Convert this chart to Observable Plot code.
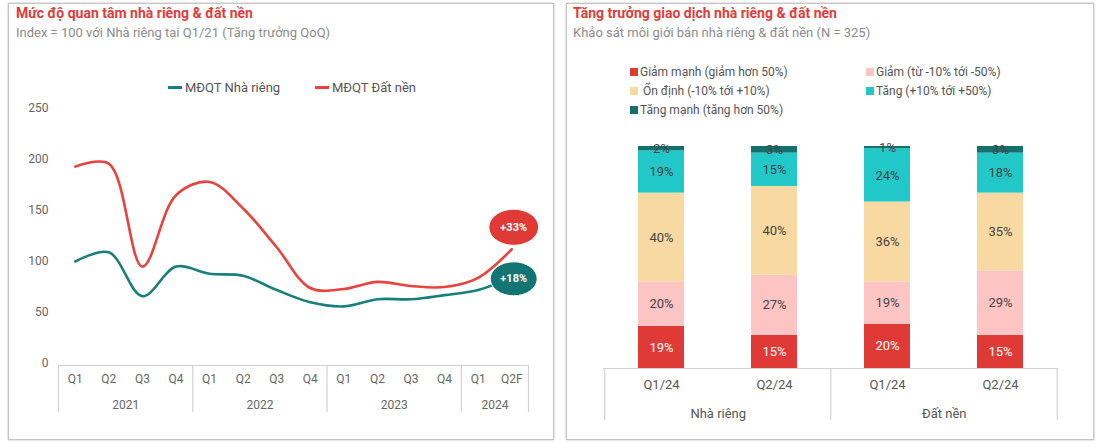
<!DOCTYPE html>
<html><head><meta charset="utf-8">
<script src="https://cdn.jsdelivr.net/npm/d3@7"></script>
<script src="https://cdn.jsdelivr.net/npm/@observablehq/plot@0.6"></script>
<style>
body{margin:0;width:1100px;height:447px;position:relative;background:#fff;font-family:Roboto,"Noto Sans",sans-serif;overflow:hidden}
.panel{position:absolute;top:3px;height:437px;border:1.5px solid #c4c4c4;box-shadow:0 0 2px #bbb;box-sizing:border-box}
.title{position:absolute;font-weight:bold;font-size:14px;color:#e03c3a;white-space:nowrap}
.sub{position:absolute;font-size:13px;color:#8c8c8c;white-space:nowrap}
.chart{position:absolute;top:0}
.leg{position:absolute;font-size:13px;color:#555;white-space:nowrap;display:flex;align-items:center}
.leg .ln{display:inline-block;width:14px;height:2.5px;margin-right:3px}
.leg2{position:absolute;font-size:12px;color:#555;white-space:nowrap;display:flex;align-items:center}
.leg2 .sq{display:inline-block;width:8px;height:8px;margin-right:2px}
</style></head><body>
<div class="panel" style="left:8px;width:546px"></div>
<div class="panel" style="left:566px;width:528px"></div>
<div class="title" style="left:16px;top:5px">Mức độ quan tâm nhà riêng &amp; đất nền</div>
<div class="sub" style="left:16px;top:25px">Index = 100 với Nhà riêng tại Q1/21 (Tăng trưởng QoQ)</div>
<div class="title" style="left:573px;top:5px">Tăng trưởng giao dịch nhà riêng &amp; đất nền</div>
<div class="sub" style="left:573px;top:25px">Khảo sát môi giới bán nhà riêng &amp; đất nền (N = 325)</div>
<div id="legL"></div>
<div id="legR"></div>
<div id="left" class="chart" style="left:0"></div>
<div id="right" class="chart" style="left:560px"></div>
<script>
// ---------- Left chart data ----------
const quarters = ["Q1","Q2","Q3","Q4","Q1","Q2","Q3","Q4","Q1","Q2","Q3","Q4","Q1","Q2F"];
const quarterYears = ["2021","2021","2021","2021","2022","2022","2022","2022","2023","2023","2023","2023","2024","2024"];
const years = ["2021","2022","2023","2024"];
const nhaRieng = [100,109,66,95,88,86,72,60,56,63,63,67,72,85];
const datNen = [193,196,95,165,178,152,114,74,73,80,76,75,84,112];
const seriesNames = ["MĐQT Nhà riêng","MĐQT Đất nền"];
const seriesColors = ["#18807c","#e8433d"];
const badgeLabels = ["+18%","+33%"];
const badgeColors = ["#137571","#e03a36"];
const yTicks = [0,50,100,150,200,250];

// ---------- Right chart data ----------
const groups = ["Nhà riêng","Nhà riêng","Đất nền","Đất nền"];
const periods = ["Q1/24","Q2/24","Q1/24","Q2/24"];
const categories = ["Giảm mạnh (giảm hơn 50%)","Giảm (từ -10% tới -50%)"," Ổn định (-10% tới +10%)","Tăng (+10% tới +50%)","Tăng mạnh (tăng hơn 50%)"];
const giamManh = [19,15,20,15];
const giam = [20,27,19,29];
const onDinh = [40,40,36,35];
const tang = [19,15,24,18];
const tangManh = [2,3,1,3];
const catColors = ["#e03a37","#fcc5c4","#f9d9a2","#22c8c8","#13706c"];

// ---------- Left chart ----------
const lineRows = [];
quarters.forEach((q,i)=>{
  lineRows.push({i, q, s: seriesNames[0], v: nhaRieng[i]});
  lineRows.push({i, q, s: seriesNames[1], v: datNen[i]});
});
const yearRows = years.map(y=>{
  const idx = quarterYears.map((d,i)=>d===y?i:-1).filter(i=>i>=0);
  return {year:y, mid:(idx[0]+idx[idx.length-1])/2, start:idx[0]-0.5, end:idx[idx.length-1]+0.5};
});
const seps = Array.from(new Set(yearRows.flatMap(d=>[d.start,d.end])));
const last = quarters.length-1;

const ellipse = {draw(ctx, size){
  const r = Math.sqrt(size/Math.PI), rx = r*1.38, ry = r, k = 0.5523;
  ctx.moveTo(rx,0);
  ctx.bezierCurveTo(rx, ry*k, rx*k, ry, 0, ry);
  ctx.bezierCurveTo(-rx*k, ry, -rx, ry*k, -rx, 0);
  ctx.bezierCurveTo(-rx, -ry*k, -rx*k, -ry, 0, -ry);
  ctx.bezierCurveTo(rx*k, -ry, rx, -ry*k, rx, 0);
  ctx.closePath();
}};

const left = Plot.plot({
  width: 560, height: 447,
  marginTop: 108, marginBottom: 84, marginLeft: 58, marginRight: 32,
  style: {fontFamily: "Roboto, sans-serif", fontSize: "12px", color: "#666", background: "transparent"},
  x: {type: "linear", domain: [-0.5, quarters.length-0.5], axis: null},
  y: {domain: [0, 250], axis: null},
  color: {domain: seriesNames, range: seriesColors},
  marks: [
    Plot.axisY({ticks: yTicks, tickSize: 0, tickPadding: 10, fontSize: 12, label: null}),
    Plot.ruleY([0], {stroke: "#d2d2d2", strokeWidth: 1.2, dy: 2}),
    Plot.axisX({ticks: seps, tickSize: 47, tickFormat: () => "", stroke: "#d2d2d2", strokeWidth: 1.2, dy: 2, label: null}),
    Plot.axisX({ticks: d3.range(quarters.length), tickSize: 0, tickPadding: 11, tickFormat: i => quarters[i], fontSize: 12, label: null}),
    Plot.text(yearRows, {x: "mid", text: "year", frameAnchor: "bottom", lineAnchor: "middle", dy: 42, fontSize: 12, fill: "#666"}),
    Plot.line(lineRows, {x: "i", y: "v", stroke: "s", z: "s", curve: "catmull-rom", strokeWidth: 2.6}),
    Plot.dot([{i: last, v: datNen[last], t: badgeLabels[1]}], {x: "i", y: "v", r: 18, symbol: ellipse, fill: badgeColors[1], stroke: "white", strokeWidth: 1, dy: -22, dx: 2}),
    Plot.text([{i: last, v: datNen[last], t: badgeLabels[1]}], {x: "i", y: "v", text: "t", fill: "white", fontWeight: "bold", fontSize: 11, dy: -22, dx: 2}),
    Plot.dot([{i: last, v: nhaRieng[last], t: badgeLabels[0]}], {x: "i", y: "v", r: 17, symbol: ellipse, fill: badgeColors[0], stroke: "white", strokeWidth: 1, dy: 2, dx: 2}),
    Plot.text([{i: last, v: nhaRieng[last], t: badgeLabels[0]}], {x: "i", y: "v", text: "t", fill: "white", fontWeight: "bold", fontSize: 11, dy: 2, dx: 2})
  ]
});
document.getElementById("left").appendChild(left);

// left legend
const legL = document.getElementById("legL");
[[168, 80],[315, 80]].forEach((p,k)=>{
  const d = document.createElement("div");
  d.className = "leg"; d.style.left = p[0]+"px"; d.style.top = p[1]+"px";
  d.innerHTML = `<span class="ln" style="background:${seriesColors[k]}"></span>${seriesNames[k]}`;
  legL.appendChild(d);
});

// ---------- Right chart ----------
const series = [giamManh, giam, onDinh, tang, tangManh];
const keys = groups.map((g,i)=>g+"|"+periods[i]);
const barRows = [];
keys.forEach((key,i)=>{
  categories.forEach((c,j)=>barRows.push({key, cat: c, j, value: series[j][i]}));
});
const RW = 540, RML = 43, RMR = 43;
const step = (RW - RML - RMR) / keys.length;
const groupNames = Array.from(new Set(groups));
const groupRows = groupNames.map(g=>{
  const ks = keys.filter((k,i)=>groups[i]===g);
  return {g, first: ks[0], lastKey: ks[ks.length-1]};
});

const right = Plot.plot({
  width: RW, height: 447,
  marginTop: 146, marginBottom: 79, marginLeft: RML, marginRight: RMR,
  style: {fontFamily: "Roboto, sans-serif", fontSize: "13px", color: "#555", background: "transparent"},
  x: {type: "band", domain: keys, paddingInner: 0.595, paddingOuter: 0.2975, axis: null},
  y: {domain: [0, 100], axis: null},
  color: {domain: categories, range: catColors},
  marks: [
    Plot.barY(barRows, {x: "key", y: "value", fill: "cat"}),
    Plot.text(barRows, Plot.stackY({x: "key", y: "value", text: d => d.j === 0 ? d.value + "%" : null, fill: "white", fontSize: 13})),
    Plot.text(barRows, Plot.stackY({x: "key", y: "value", text: d => d.j !== 0 ? d.value + "%" : null, fill: "#444", fontSize: 13})),
    Plot.ruleY([0], {stroke: "#d2d2d2", strokeWidth: 1.2}),
    Plot.axisX({ticks: groupRows.map(d=>d.first), tickSize: 52, tickFormat: () => "", stroke: "#d2d2d2", strokeWidth: 1.2, dx: -step/2, label: null}),
    Plot.axisX({ticks: [keys[keys.length-1]], tickSize: 52, tickFormat: () => "", stroke: "#d2d2d2", strokeWidth: 1.2, dx: step/2, label: null}),
    Plot.axisX({tickSize: 0, tickPadding: 11, tickFormat: k => k.split("|")[1], fontSize: 13, label: null}),
    Plot.text(groupRows, {x: "first", text: "g", frameAnchor: "bottom", lineAnchor: "middle", dy: 45, dx: step/2, fontSize: 13, fill: "#555"})
  ]
});
document.getElementById("right").appendChild(right);

// right legend
const legR = document.getElementById("legR");
const legPos = [[630,65],[866,65],[630,84],[866,84],[630,103]];
categories.forEach((c,k)=>{
  const d = document.createElement("div");
  d.className = "leg2"; d.style.left = legPos[k][0]+"px"; d.style.top = legPos[k][1]+"px";
  d.innerHTML = `<span class="sq" style="background:${catColors[k]}"></span>${c.replace(/^ /,"&nbsp;")}`;
  legR.appendChild(d);
});
</script>
</body></html>
